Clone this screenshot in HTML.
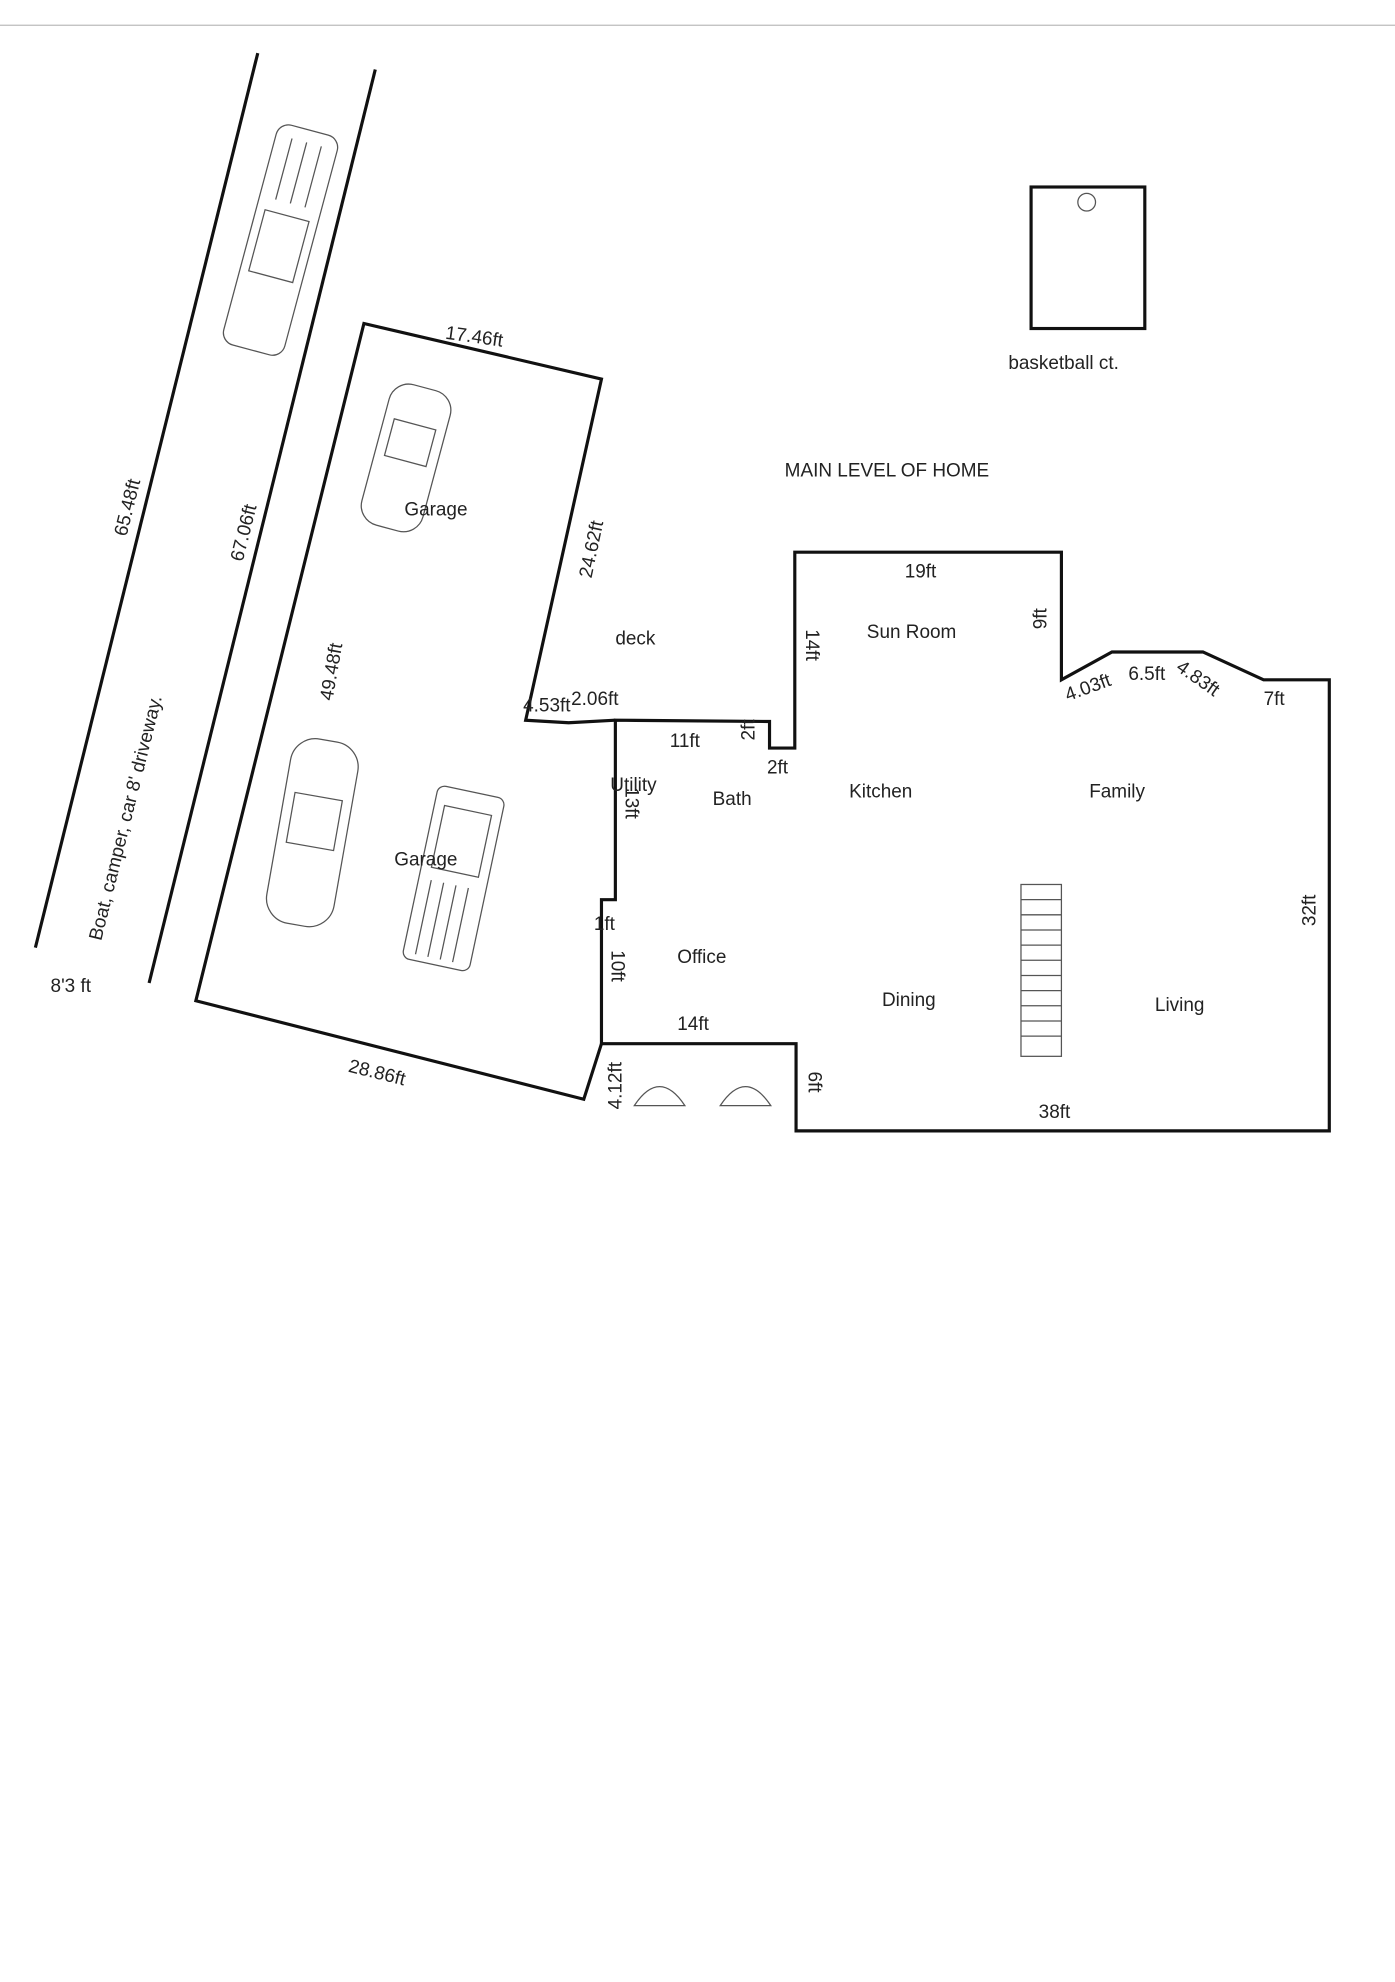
<!DOCTYPE html>
<html><head><meta charset="utf-8"><style>
html,body{margin:0;padding:0;background:#fff}
svg{display:block}
text{font-family:"Liberation Sans","DejaVu Sans",sans-serif;font-size:15px;fill:#222}
</style></head><body>
<svg width="1395" height="1982" viewBox="0 0 1104 1568.6" preserveAspectRatio="none" xmlns="http://www.w3.org/2000/svg">
<line x1="0" y1="20" x2="1104" y2="20" stroke="#bbb" stroke-width="1"/>
<g stroke="#111" stroke-width="2.5" fill="none">
<line x1="204" y1="42" x2="28" y2="750"/>
<line x1="297" y1="55" x2="118" y2="778"/>
<polyline points="476,826 462,870 155,792 288,256 476,300 416,570 450,572 487,570"/>
<polygon points="487,570 609,571 609,592 629,592 629,437 840,437 840,538 880,516 952,516 1000,538 1052,538 1052,895 630,895 630,826 476,826 476,712 487,712"/>
<rect x="816" y="148" width="90" height="112"/>
</g>
<g stroke="#555" stroke-width="1" fill="none">
<rect x="808" y="700" width="32" height="136"/>
<line x1="808" y1="712" x2="840" y2="712"/><line x1="808" y1="724" x2="840" y2="724"/>
<line x1="808" y1="736" x2="840" y2="736"/><line x1="808" y1="748" x2="840" y2="748"/>
<line x1="808" y1="760" x2="840" y2="760"/><line x1="808" y1="772" x2="840" y2="772"/>
<line x1="808" y1="784" x2="840" y2="784"/><line x1="808" y1="796" x2="840" y2="796"/>
<line x1="808" y1="808" x2="840" y2="808"/><line x1="808" y1="820" x2="840" y2="820"/>
<g transform="rotate(15 222 190)"><rect x="197" y="100" width="50" height="180" rx="10"/><rect x="204" y="170" width="36" height="50"/><line x1="210" y1="110" x2="210" y2="160"/><line x1="222" y1="110" x2="222" y2="160"/><line x1="234" y1="110" x2="234" y2="160"/></g>
<g transform="rotate(15 322 360)"><rect x="297" y="305" width="50" height="115" rx="16"/><rect x="305" y="335" width="34" height="30"/></g>
<g transform="rotate(10 247 660)"><rect x="220" y="585" width="54" height="148" rx="20"/><rect x="228" y="630" width="38" height="40"/></g>
<g transform="rotate(12 358 695)"><rect x="332" y="625" width="54" height="140" rx="6"/><rect x="340" y="640" width="38" height="50"/><line x1="342" y1="700" x2="342" y2="760"/><line x1="352" y1="700" x2="352" y2="760"/><line x1="362" y1="700" x2="362" y2="760"/><line x1="372" y1="700" x2="372" y2="760"/></g>
<path d="M502,875 Q522,845 542,875 Z"/><path d="M570,875 Q590,845 610,875 Z"/>
<circle cx="860" cy="160" r="7"/>
</g>
<text x="798" y="292">basketball ct.</text>
<text x="621" y="377">MAIN LEVEL OF HOME</text>
<text x="352" y="268" transform="rotate(8 352 268)">17.46ft</text>
<text x="320" y="408">Garage</text>
<text x="312" y="685">Garage</text>
<text x="487" y="510">deck</text>
<text x="716" y="457">19ft</text>
<text x="686" y="505">Sun Room</text>
<text x="530" y="591">11ft</text>
<text x="607" y="612">2ft</text>
<text x="483" y="626">Utility</text>
<text x="564" y="637">Bath</text>
<text x="672" y="631">Kitchen</text>
<text x="862" y="631">Family</text>
<text x="536" y="762">Office</text>
<text x="698" y="796">Dining</text>
<text x="914" y="800">Living</text>
<text x="536" y="815">14ft</text>
<text x="822" y="885">38ft</text>
<text x="1000" y="558">7ft</text>
<text x="40" y="785">8'3 ft</text>
<text x="414" y="563">4.53ft</text>
<text x="452" y="558">2.06ft</text>
<text x="470" y="736">1ft</text>
<text x="275" y="848" transform="rotate(14 275 848)">28.86ft</text>
<text x="845" y="555" transform="rotate(-20 845 555)">4.03ft</text>
<text x="893" y="538">6.5ft</text>
<text x="930" y="530" transform="rotate(35 930 530)">4.83ft</text>
<g>
<text transform="translate(100,425) rotate(-76)">65.48ft</text>
<text transform="translate(192,445) rotate(-76)">67.06ft</text>
<text transform="translate(80,745) rotate(-76)">Boat, camper, car  8' driveway.</text>
<text transform="translate(263,555) rotate(-80)">49.48ft</text>
<text transform="translate(468,458) rotate(-78)">24.62ft</text>
<text transform="translate(638,498) rotate(90)">14ft</text>
<text transform="translate(828,498) rotate(-90)">9ft</text>
<text transform="translate(597,586) rotate(-90)">2ft</text>
<text transform="translate(495,623) rotate(90)">13ft</text>
<text transform="translate(484,752) rotate(90)">10ft</text>
<text transform="translate(492,878) rotate(-90)">4.12ft</text>
<text transform="translate(640,848) rotate(90)">6ft</text>
<text transform="translate(1041,733) rotate(-90)">32ft</text>
</g>
</svg>
</body></html>
